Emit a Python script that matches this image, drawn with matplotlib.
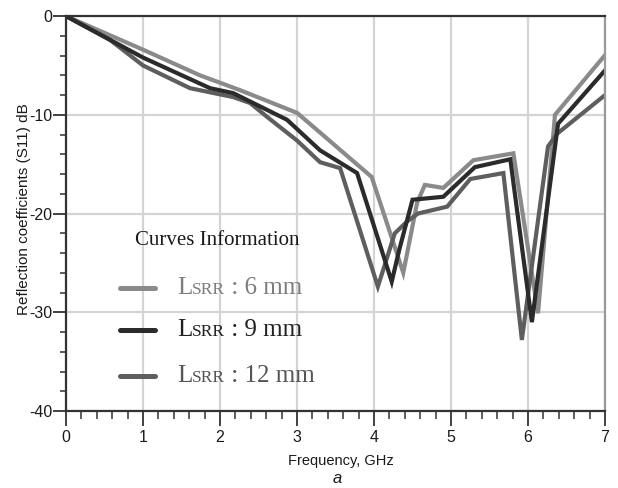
import matplotlib
matplotlib.use("Agg")
import matplotlib.pyplot as plt
from matplotlib.ticker import MultipleLocator
from matplotlib.offsetbox import TextArea, HPacker, AnnotationBbox

# S11 curves (frequency in GHz, level in dB)
f6 = [0, 1.0, 1.74, 2.26, 3.0, 3.3, 3.97, 4.38, 4.56, 4.66, 4.9, 5.29, 5.81, 6.13, 6.35, 7.0]
s6 = [0, -3.4, -6.0, -7.5, -9.8, -11.8, -16.3, -26.0, -18.9, -17.1, -17.4, -14.6, -13.9, -30.1, -10.0, -3.95]

f9 = [0, 1.0, 1.87, 2.17, 2.43, 2.87, 3.3, 3.78, 4.23, 4.33, 4.5, 4.9, 5.31, 5.77, 6.05, 6.39, 7.0]
s9 = [0, -4.2, -7.3, -7.8, -8.8, -10.5, -13.6, -15.9, -26.9, -23.6, -18.6, -18.3, -15.3, -14.5, -31.0, -10.9, -5.5]

f12 = [0, 0.57, 1.0, 1.61, 2.17, 2.39, 2.61, 3.0, 3.3, 3.56, 4.05, 4.27, 4.43, 4.57, 4.95, 5.25, 5.68, 5.92, 6.26, 6.38, 7.0]
s12 = [0, -2.4, -5.0, -7.3, -8.2, -8.8, -10.2, -12.6, -14.8, -15.4, -27.4, -22.0, -20.8, -20.0, -19.3, -16.5, -15.9, -32.8, -13.2, -11.9, -8.0]

labels = ["6 mm", "9 mm", "12 mm"]
colors = ["#8a8a8a", "#2b2b2b", "#5e5e5e"]
text_colors = ["#7d7d7d", "#222222", "#555555"]

plt.rcParams["axes.unicode_minus"] = False
sans = ["Liberation Sans", "DejaVu Sans"]
serif = ["Liberation Serif", "DejaVu Serif"]

fig = plt.figure(figsize=(6.18, 4.88), dpi=100)
ax = fig.add_axes([0.1068, 0.1578, 0.8722, 0.8092])

ax.grid(True, which="major", color="#d4d4d4", lw=1.6)
ax.set_axisbelow(True)

ax.plot(f6, s6, color=colors[0], lw=3.0, solid_joinstyle="miter")
ax.plot(f12, s12, color=colors[2], lw=3.0, solid_joinstyle="miter")
ax.plot(f9, s9, color=colors[1], lw=3.0, solid_joinstyle="miter")

ax.set_xlim(0, 7)
ax.set_ylim(-40, 0)
ax.xaxis.set_major_locator(MultipleLocator(1))
ax.xaxis.set_minor_locator(MultipleLocator(0.2))
ax.yaxis.set_major_locator(MultipleLocator(10))
ax.yaxis.set_minor_locator(MultipleLocator(2))

ax.tick_params(axis="x", which="major", length=10.5, width=1.3, color="#333333", pad=3)
ax.tick_params(axis="x", which="minor", length=6, width=1.1, color="#333333")
ax.tick_params(axis="y", which="major", length=9.5, width=1.3, color="#333333", pad=0.5)
ax.tick_params(axis="y", which="minor", length=4.5, width=1.1, color="#333333")
for lab in ax.get_xticklabels() + ax.get_yticklabels():
    lab.set_family(sans)
    lab.set_fontsize(11.5)
    lab.set_color("#1a1a1a")

for side in ["left", "bottom", "top"]:
    ax.spines[side].set_color("#333333")
    ax.spines[side].set_linewidth(1.6)
ax.spines["right"].set_color("#9a9a9a")
ax.spines["right"].set_linewidth(1.6)

ax.set_xlabel("Frequency, GHz", family=sans, fontsize=10.5, color="#1a1a1a")
ax.xaxis.set_label_coords(0.51, -0.127)
ax.xaxis.label.set_va("center")
ax.set_ylabel("Reflection coefficients (S11) dB", family=sans, fontsize=11, color="#1a1a1a")
ax.yaxis.set_label_coords(-0.078, 0.51)
ax.yaxis.label.set_va("center")
fig.text(0.545, 0.02, "a", family=sans, fontsize=12, style="italic", ha="center", va="center", color="#1a1a1a")

# hand-made legend block
ax.text(0.128, 0.433, "Curves Information", transform=ax.transAxes, family=serif,
        fontsize=15, color="#1a1a1a", va="center", ha="left")
rows_y = [0.311, 0.205, 0.089]
for lab, c, tc, y in zip(labels, colors, text_colors, rows_y):
    ax.plot([0.100, 0.165], [y, y], transform=ax.transAxes, color=c, lw=3.6,
            solid_capstyle="round")
    parts = [TextArea("L", textprops=dict(family=serif, fontsize=18, color=tc)),
             TextArea("SRR", textprops=dict(family=serif, fontsize=12.5, color=tc)),
             TextArea(" : " + lab, textprops=dict(family=serif, fontsize=18, color=tc))]
    box = HPacker(children=parts, align="baseline", pad=0, sep=0)
    ab = AnnotationBbox(box, (0.206, y), xycoords="axes fraction", box_alignment=(0, 0.5),
                        frameon=False, pad=0)
    ax.add_artist(ab)

fig.savefig("out.png", dpi=100)
